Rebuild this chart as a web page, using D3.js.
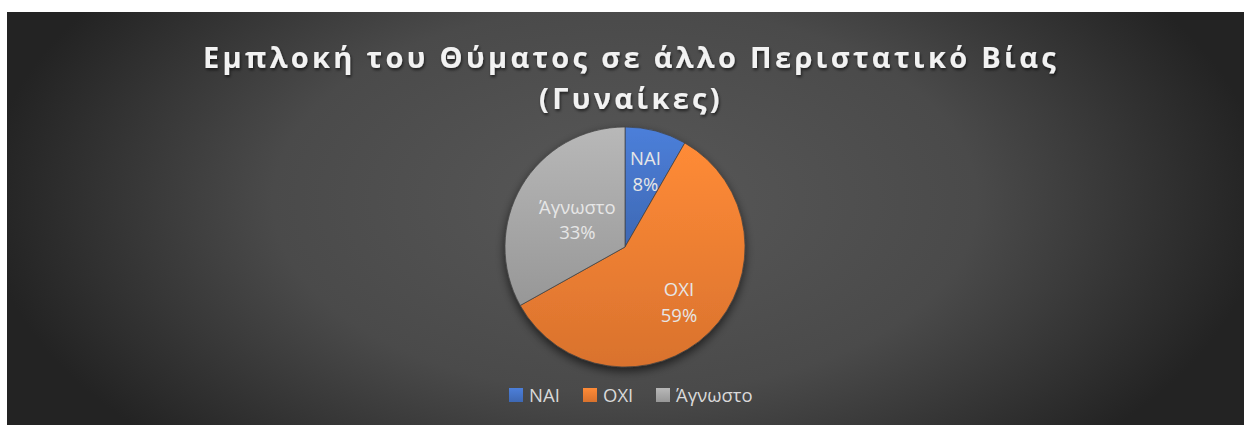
<!DOCTYPE html>
<html lang="el">
<head>
    <meta charset="UTF-8">
    <title>Pie</title>
    <script src="https://d3js.org/d3.v7.min.js"></script>
    <style>
        body { margin: 0; background: #fff; }
        svg { display: block; }
    </style>
</head>
<body>
    <div id="my_pie"></div>
</body>
</html>

<script>
var W = 1244, H = 425;

var categories = ["NAI", "OXI", "Άγνωστο"];
var values = [8.3, 58.6, 33.1];
var colors = ["#4472C4", "#ED7D31", "#A5A5A5"];
var titleLines = ["Εμπλοκή του Θύματος σε άλλο Περιστατικό Βίας", "(Γυναίκες)"];

var data = categories.map(function(c, i) { return {name: c, value: values[i], color: colors[i]}; });

var svg = d3.select("#my_pie")
    .append("svg")
        .attr("width", W)
        .attr("height", H);

var defs = svg.append("defs");

// background radial gradient
var bg = defs.append("radialGradient")
    .attr("id", "bg")
    .attr("gradientUnits", "userSpaceOnUse")
    .attr("cx", 625).attr("cy", 200).attr("r", 640)
    .attr("gradientTransform", "translate(625,200) scale(1,0.55) translate(-625,-200)");
bg.append("stop").attr("offset", "0%").attr("stop-color", "#585858");
bg.append("stop").attr("offset", "55%").attr("stop-color", "#4a4a4a");
bg.append("stop").attr("offset", "100%").attr("stop-color", "#232323");

// slice gradients
data.forEach(function(d, i) {
    var g = defs.append("linearGradient")
        .attr("id", "sl" + i)
        .attr("x1", 0).attr("y1", 0).attr("x2", 0).attr("y2", 1);
    g.append("stop").attr("offset", "0%").attr("stop-color", d3.color(d.color).brighter(0.3));
    g.append("stop").attr("offset", "100%").attr("stop-color", d3.color(d.color).darker(0.25));
});

var sh = defs.append("filter").attr("id", "shadow")
    .attr("x", "-20%").attr("y", "-20%").attr("width", "140%").attr("height", "150%");
sh.append("feDropShadow").attr("dx", 0).attr("dy", 4).attr("stdDeviation", 5)
    .attr("flood-color", "#000").attr("flood-opacity", 0.6);

var tsh = defs.append("filter").attr("id", "tshadow");
tsh.append("feDropShadow").attr("dx", 1).attr("dy", 2).attr("stdDeviation", 1.5)
    .attr("flood-color", "#000").attr("flood-opacity", 0.6);

svg.append("rect")
    .attr("x", 7).attr("y", 12)
    .attr("width", W - 7).attr("height", H - 12)
    .attr("fill", "url(#bg)");

// title
svg.append("g")
    .attr("filter", "url(#tshadow)")
    .selectAll("text")
    .data(titleLines)
    .enter()
    .append("text")
    .attr("x", 631)
    .attr("y", function(d, i) { return 68 + i * 41; })
    .attr("text-anchor", "middle")
    .attr("fill", "#f2f2f2")
    .style("font-family", "'Open Sans', sans-serif")
    .style("font-weight", "bold")
    .style("font-size", "29px")
    .style("letter-spacing", "3.3px")
    .text(function(d) { return d; });

// pie
var cx = 625, cy = 247, r = 120;
var pie = d3.pie().sort(null).value(function(d) { return d.value; });
var arc = d3.arc().innerRadius(0).outerRadius(r);
var labelR = [0.66, 0.64, 0.46];
var total = d3.sum(values);

var g = svg.append("g")
    .attr("transform", "translate(" + cx + "," + cy + ")");

g.append("g")
    .attr("filter", "url(#shadow)")
    .selectAll("path")
    .data(pie(data))
    .enter()
    .append("path")
    .attr("d", arc)
    .attr("fill", function(d, i) { return "url(#sl" + i + ")"; })
    .attr("stroke", "#404040")
    .attr("stroke-width", 0.7);

var lab = g.selectAll(".lab")
    .data(pie(data))
    .enter()
    .append("text")
    .attr("class", "lab")
    .attr("text-anchor", "middle")
    .attr("fill", "#e6e6e6")
    .style("font-family", "'Open Sans', sans-serif")
    .style("font-size", "18.5px")
    .attr("transform", function(d, i) {
        var c = d3.arc().innerRadius(r * labelR[i]).outerRadius(r * labelR[i]).centroid(d);
        return "translate(" + c[0] + "," + c[1] + ")";
    });
lab.append("tspan").attr("x", 0).attr("dy", "-0.3em").text(function(d) { return d.data.name; });
lab.append("tspan").attr("x", 0).attr("dy", "1.4em")
    .text(function(d) { return d3.format(".0%")(d.data.value / total); });

// legend
var legX = [509, 583, 656];
var leg = svg.append("g").selectAll("g")
    .data(data)
    .enter()
    .append("g")
    .attr("transform", function(d, i) { return "translate(" + legX[i] + ",388)"; });
leg.append("rect")
    .attr("width", 14).attr("height", 14)
    .attr("fill", function(d, i) { return "url(#sl" + i + ")"; });
leg.append("text")
    .attr("x", 20).attr("y", 14)
    .attr("fill", "#d9d9d9")
    .style("font-family", "'Open Sans', sans-serif")
    .style("font-size", "18.5px")
    .text(function(d) { return d.name; });
</script>
